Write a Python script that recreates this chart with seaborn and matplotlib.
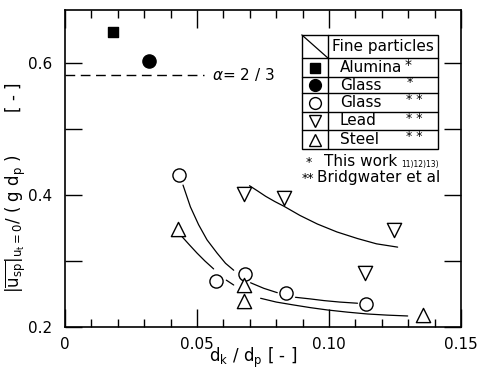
import numpy as np
import pandas as pd
import matplotlib
matplotlib.use("Agg")
import matplotlib.pyplot as plt
import seaborn as sns
from matplotlib.patches import Rectangle
from matplotlib.lines import Line2D

sns.set_theme(style="ticks")
plt.rcParams['font.family'] = ['DejaVu Sans']
plt.rcParams['mathtext.fontset'] = 'dejavusans'
plt.rcParams['text.color'] = 'black'
plt.rcParams['axes.labelcolor'] = 'black'
plt.rcParams['xtick.color'] = 'black'
plt.rcParams['ytick.color'] = 'black'

# ---- data ----
alumina_x = [0.0181]
alumina_y = [0.647]
glass_this_x = [0.0319]
glass_this_y = [0.603]
glass_bw_x = [0.0430, 0.0571, 0.0680, 0.0839, 0.1140]
glass_bw_y = [0.430, 0.270, 0.280, 0.251, 0.235]
lead_x = [0.0679, 0.0829, 0.1248, 0.1138]
lead_y = [0.402, 0.395, 0.347, 0.282]
steel_x = [0.0429, 0.0679, 0.0679, 0.1356]
steel_y = [0.348, 0.264, 0.240, 0.218]

alpha_line_y = 0.582
alpha_line_x = [0.0, 0.0525]

# fitted curves (hand drawn in the original), read point by point, with segment ids
curve_glass_x = [0.0447, 0.0475, 0.0506, 0.0538, 0.0576, 0.0608, 0.0639,
                 0.0703, 0.0753, 0.0804,
                 0.0873, 0.0930, 0.0981, 0.1040, 0.1108]
curve_glass_y = [0.415, 0.382, 0.355, 0.332, 0.312, 0.2965, 0.286,
                 0.267, 0.2586, 0.252,
                 0.245, 0.2425, 0.240, 0.2378, 0.236]
curve_glass_seg = [0] * 7 + [1] * 3 + [2] * 5

curve_steel_x = [0.0443, 0.0470, 0.0500, 0.0530, 0.0563,
                 0.0611, 0.0639,
                 0.0741, 0.0800, 0.0867, 0.0930, 0.0994, 0.1070, 0.1146, 0.1220, 0.1298]
curve_steel_y = [0.337, 0.325, 0.312, 0.300, 0.288,
                 0.271, 0.2636,
                 0.2435, 0.2378, 0.2333, 0.2293, 0.2258, 0.2225, 0.2197, 0.2180, 0.2167]
curve_steel_seg = [3] * 5 + [4] * 2 + [5] * 9

curve_lead_x = [0.0699, 0.0730, 0.0760, 0.0795, 0.0829, 0.0890, 0.0956,
                0.1030, 0.1108, 0.1180, 0.1260]
curve_lead_y = [0.414, 0.406, 0.398, 0.390, 0.383, 0.369, 0.356,
                0.344, 0.334, 0.326, 0.321]
curve_lead_seg = [6] * 11

legend_labels = ["Alumina", "Glass", "Glass", "Lead", "Steel"]
legend_stars = ["*", "*", "* *", "* *", "* *"]

# ---- figure ----
fig = plt.figure(figsize=(4.83, 3.72), dpi=100)
ax = fig.add_axes([65 / 483, 45 / 372, 396 / 483, 317.5 / 372])

curves = pd.DataFrame({
    "x": curve_glass_x + curve_steel_x + curve_lead_x,
    "y": curve_glass_y + curve_steel_y + curve_lead_y,
    "seg": curve_glass_seg + curve_steel_seg + curve_lead_seg,
})
sns.lineplot(data=curves, x="x", y="y", units="seg", estimator=None, sort=False,
             color="black", lw=0.9, ax=ax, legend=False)

sns.lineplot(x=alpha_line_x, y=[alpha_line_y] * 2, color="black", lw=1.0,
             ax=ax, legend=False)
ax.lines[-1].set_dashes([7, 4])
ax.text(0.0557, alpha_line_y, r"$\alpha$= 2 / 3", fontsize=11, va="center", ha="left")

common = dict(edgecolor="black", linewidth=1.0, ax=ax, legend=False, zorder=5)
sns.scatterplot(x=alumina_x, y=alumina_y, marker="s", s=60, color="black", **common)
sns.scatterplot(x=glass_this_x, y=glass_this_y, marker="o", s=90, color="black", **common)
sns.scatterplot(x=glass_bw_x, y=glass_bw_y, marker="o", s=90, color="white", **common)
sns.scatterplot(x=lead_x, y=lead_y, marker="v", s=105, color="white", **common)
sns.scatterplot(x=steel_x, y=steel_y, marker="^", s=105, color="white", **common)

ax.set_xlim(0, 0.15)
ax.set_ylim(0.2, 0.681)
ax.set_xticks([0, 0.05, 0.10, 0.15])
ax.set_xticklabels(["0", "0.05", "0.10", "0.15"])
ax.set_xticks(np.arange(0.01, 0.15, 0.01), minor=True)
ax.set_yticks([0.2, 0.3, 0.4, 0.5, 0.6])
ax.set_yticklabels(["0.2", "", "0.4", "", "0.6"])
ax.tick_params(axis="both", which="both", direction="in", top=True, right=True,
               colors="black", labelsize=11, width=1.0)
ax.tick_params(axis="x", which="major", length=13, pad=7)
ax.tick_params(axis="x", which="minor", length=6)
ax.tick_params(axis="y", which="major", length=12, pad=9)
for sp in ax.spines.values():
    sp.set_linewidth(1.2)
    sp.set_color("black")
ax.set_xlabel("")
ax.set_ylabel("")

ax.text(0.475, -0.097, r"d$_\mathregular{k}$ / d$_\mathregular{p}$ [ - ]", transform=ax.transAxes,
        ha="center", va="center", fontsize=12)
ax.text(-0.125, 0.44,
        r"$|\overline{\mathrm{u_{sp}}}|_{\mathrm{u_t=0}}/$ ( g d$_\mathregular{p}$ )        [ - ]",
        transform=ax.transAxes, rotation=90, ha="center", va="center", fontsize=12)

# ---- table-style legend (axes fraction) ----
T = ax.transAxes
L, R, C = 0.598, 0.943, 0.665
top, bot = 0.920, 0.561
rows = [0.846, 0.788, 0.736, 0.678, 0.620]
ax.add_patch(Rectangle((L, bot), R - L, top - bot, fill=False, lw=1.0,
                       edgecolor="black", transform=T, zorder=6))
ax.add_line(Line2D([C, C], [bot, top], color="black", lw=1.0, transform=T, zorder=6))
for r in rows:
    ax.add_line(Line2D([L, R], [r, r], color="black", lw=1.0, transform=T, zorder=6))
ax.add_line(Line2D([L, C], [top, rows[0]], color="black", lw=0.9, transform=T, zorder=6))
ax.text(0.802, (top + rows[0]) / 2, "Fine particles", transform=T, ha="center",
        va="center", fontsize=11)
edges = rows + [bot]
mk = [("s", "black", 6.5), ("o", "black", 8.5), ("o", "white", 8.5),
      ("v", "white", 9), ("^", "white", 9)]
for i, (lab, st) in enumerate(zip(legend_labels, legend_stars)):
    yc = (edges[i] + edges[i + 1]) / 2
    m, fc, ms = mk[i]
    ax.plot([0.632], [yc], marker=m, ms=ms, mfc=fc, mec="black", mew=1.0,
            transform=T, zorder=7, clip_on=False)
    ax.text(0.694, yc, lab, transform=T, ha="left", va="center", fontsize=11)
    if i == 0:
        ax.text(0.857, yc + 0.008, "*", transform=T, ha="left", va="center", fontsize=10)
    else:
        ax.text(0.862, yc + 0.008, st, transform=T, ha="left", va="center", fontsize=9)

ax.text(0.607, 0.518, "*", transform=T, ha="left", va="center", fontsize=9)
ax.text(0.655, 0.520, "This work", transform=T, ha="left", va="center", fontsize=11)
ax.text(0.850, 0.512, "11)12)13)", transform=T, ha="left", va="center", fontsize=5.5)
ax.text(0.598, 0.468, "**", transform=T, ha="left", va="center", fontsize=9)
ax.text(0.636, 0.470, "Bridgwater et al", transform=T, ha="left", va="center", fontsize=11)

fig.savefig("out.png", dpi=100)
